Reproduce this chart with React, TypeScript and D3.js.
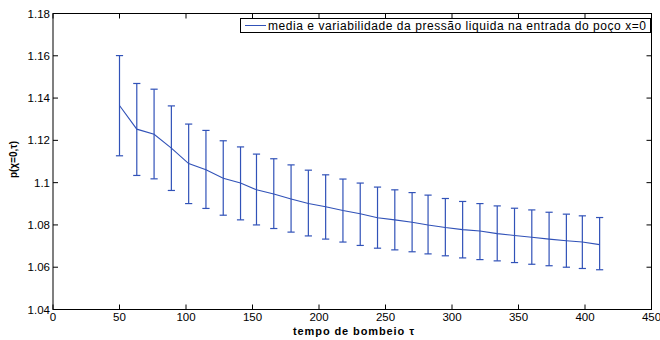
import React from "react";
import * as d3 from "d3";

// Pumping time samples and mean / ±std bounds of liquid pressure at x=0
const tempo = [50, 63, 76, 89, 102, 115, 128, 141, 153, 166, 179, 192, 205, 218, 231, 244, 257, 270, 282, 295, 308, 321, 334, 347, 360, 373, 386, 398, 411];
const media = [1.1365, 1.1253, 1.1229, 1.1163, 1.109, 1.1061, 1.1021, 1.0998, 1.0966, 1.0946, 1.0923, 1.0901, 1.0886, 1.0868, 1.0853, 1.0834, 1.0824, 1.0813, 1.08, 1.0788, 1.0778, 1.0771, 1.0759, 1.075, 1.0742, 1.0733, 1.0725, 1.0719, 1.0707];
const superior = [1.1601, 1.1469, 1.1442, 1.1363, 1.1277, 1.1247, 1.1198, 1.1169, 1.1135, 1.1113, 1.1084, 1.1059, 1.1037, 1.1017, 1.0998, 1.0979, 1.0966, 1.0953, 1.0941, 1.0925, 1.0911, 1.0901, 1.089, 1.0879, 1.0871, 1.086, 1.0851, 1.0843, 1.0835];
const inferior = [1.1127, 1.1034, 1.1018, 1.0963, 1.0901, 1.0878, 1.0846, 1.0824, 1.08, 1.0783, 1.0766, 1.0748, 1.0733, 1.0719, 1.0703, 1.069, 1.0682, 1.0673, 1.0663, 1.0654, 1.0644, 1.0636, 1.063, 1.0622, 1.0614, 1.0607, 1.06, 1.0594, 1.0588];

const xTicks = [0, 50, 100, 150, 200, 250, 300, 350, 400, 450];
const yTicks = [1.04, 1.06, 1.08, 1.1, 1.12, 1.14, 1.16, 1.18];
const legendLabel = "media e variabilidade da pressão liquida na entrada do poço x=0";

const W = 660;
const H = 340;
const left = 53;
const right = 651.5;
const top = 13.5;
const bottom = 309.5;
const blue = "#3152b8";
const font = "Liberation Sans, Arial, sans-serif";

export default function App() {
  const x = d3.scaleLinear().domain([0, 450]).range([left, right]);
  const y = d3.scaleLinear().domain([1.04, 1.18]).range([bottom, top]);
  const line = d3
    .line<number>()
    .x((_, i) => x(tempo[i]))
    .y((d) => y(d));
  const fmtY = (v: number) => {
    const s = v.toFixed(2);
    return s.endsWith("0") ? v.toFixed(1) : s;
  };
  const tick = 5;
  const cap = 3.6;

  return (
    <svg
      width={W}
      height={H}
      style={{ position: "absolute", left: 0, top: 0, background: "#fff" }}
      fontFamily={font}
    >
      <rect x={0} y={0} width={W} height={H} fill="#fff" />
      {/* error bars */}
      <g stroke={blue} strokeWidth={1.2} fill="none">
        {tempo.map((t, i) => {
          const cx = x(t);
          return (
            <g key={i}>
              <line x1={cx} x2={cx} y1={y(superior[i])} y2={y(inferior[i])} />
              <line x1={cx - cap} x2={cx + cap} y1={y(superior[i])} y2={y(superior[i])} />
              <line x1={cx - cap} x2={cx + cap} y1={y(inferior[i])} y2={y(inferior[i])} />
            </g>
          );
        })}
        <path d={line(media) || ""} strokeWidth={1.1} />
      </g>
      {/* axes box and ticks */}
      <g stroke="#000" strokeWidth={1} fill="none">
        <rect x={left} y={top} width={right - left} height={bottom - top} />
        {xTicks.map((v) => (
          <g key={v}>
            <line x1={x(v)} x2={x(v)} y1={bottom} y2={bottom - tick} />
            <line x1={x(v)} x2={x(v)} y1={top} y2={top + tick} />
          </g>
        ))}
        {yTicks.map((v) => (
          <g key={v}>
            <line x1={left} x2={left + tick} y1={y(v)} y2={y(v)} />
            <line x1={right} x2={right - tick} y1={y(v)} y2={y(v)} />
          </g>
        ))}
      </g>
      <g fontSize={11.5} fill="#000">
        {xTicks.map((v) => (
          <text key={v} x={x(v)} y={bottom + 11} textAnchor="middle">
            {v}
          </text>
        ))}
        {yTicks.map((v) => (
          <text key={v} x={left - 3} y={y(v) + 4} textAnchor="end">
            {fmtY(v)}
          </text>
        ))}
      </g>
      <text
        x={354}
        y={334.5}
        textAnchor="middle"
        fontSize={11}
        fontWeight="bold"
        letterSpacing={0.9}
      >
        tempo de bombeio τ
      </text>
      <text
        transform={`translate(16.5,159.5) rotate(-90)`}
        textAnchor="middle"
        fontSize={10}
        fontWeight="bold"
      >
        p(χ=0,τ)
      </text>
      {/* legend */}
      <g>
        <rect x={240.5} y={18.5} width={410} height={14} fill="#fff" stroke="#000" strokeWidth={1} />
        <line x1={245} x2={266} y1={25.5} y2={25.5} stroke={blue} strokeWidth={1} />
        <text x={268} y={29.5} fontSize={12} fill="#000" letterSpacing={0.55}>
          {legendLabel}
        </text>
      </g>
    </svg>
  );
}
